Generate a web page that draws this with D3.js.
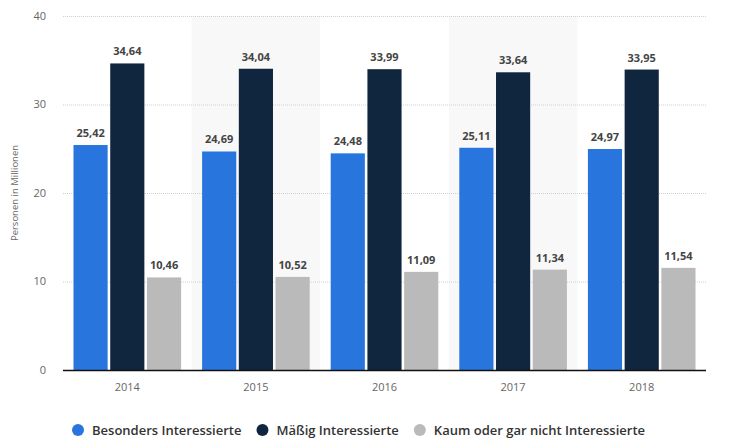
<!DOCTYPE html>
<html>
<head>
<meta charset="utf-8">
<script src="https://cdn.jsdelivr.net/npm/d3@7"></script>
<style>
  body { margin: 0; background: #fff; }
  svg { display: block; font-family: "Open Sans", sans-serif; }
</style>
</head>
<body>
<svg width="730" height="439"></svg>
<script>
const years = ["2014", "2015", "2016", "2017", "2018"];
const seriesNames = ["Besonders Interessierte", "Mäßig Interessierte", "Kaum oder gar nicht Interessierte"];
const besonders = [25.42, 24.69, 24.48, 25.11, 24.97];
const maessig = [34.64, 34.04, 33.99, 33.64, 33.95];
const kaum = [10.46, 10.52, 11.09, 11.34, 11.54];
const yTicks = [0, 10, 20, 30, 40];
const colors = ["#2876dd", "#10263e", "#bababa"];

const svg = d3.select("svg");
const margin = { left: 63, right: 24, top: 16, bottom: 69 };
const width = 730, height = 439;

const x = d3.scaleBand().domain(years).range([margin.left, width - margin.right]).padding(0);
const inner = d3.scaleBand().domain(d3.range(3)).range([10.5, x.bandwidth() - 10.5]).paddingInner(0.07);
const y = d3.scaleLinear().domain([0, 40]).range([height - margin.bottom, margin.top]);

const values = [besonders, maessig, kaum];
const rows = [];
years.forEach((yr, i) => values.forEach((s, j) => rows.push({ year: yr, s: j, v: s[i] })));

// --- alternating bands ---
svg.append("g").selectAll("rect")
  .data(years.filter((d, i) => i % 2 === 1))
  .enter().append("rect")
  .attr("x", d => x(d)).attr("width", x.bandwidth())
  .attr("y", margin.top).attr("height", y(0) - margin.top)
  .attr("fill", "#f8f8f8");

// --- grid + y labels ---
const grid = svg.append("g");
grid.selectAll("line").data(yTicks.filter(d => d > 0)).enter().append("line")
  .attr("x1", margin.left).attr("x2", width - margin.right)
  .attr("y1", d => y(d) + 0.5).attr("y2", d => y(d) + 0.5)
  .attr("stroke", "#d0d0d0").attr("stroke-dasharray", "1,1");
grid.selectAll("text").data(yTicks).enter().append("text")
  .attr("x", 46).attr("y", d => y(d)).attr("dy", "0.35em")
  .attr("text-anchor", "end").attr("font-size", 11).attr("fill", "#666")
  .text(d => d);

svg.append("text")
  .attr("transform", `translate(18,${(y(0) + y(40)) / 2}) rotate(-90)`)
  .attr("text-anchor", "middle").attr("font-size", 9.5).attr("fill", "#666")
  .text("Personen in Millionen");

// --- bars ---
svg.append("g").selectAll("rect").data(rows).enter().append("rect")
  .attr("x", d => x(d.year) + inner(d.s)).attr("width", inner.bandwidth())
  .attr("y", d => y(d.v)).attr("height", d => y(0) - y(d.v))
  .attr("fill", d => colors[d.s]);

svg.append("g").selectAll("text").data(rows).enter().append("text")
  .attr("x", d => x(d.year) + inner(d.s) + inner.bandwidth() / 2)
  .attr("y", d => y(d.v) - 8)
  .attr("text-anchor", "middle").attr("font-size", 11).attr("font-weight", "bold")
  .attr("fill", "#444")
  .text(d => d.v.toFixed(2).replace(".", ","));

// --- x axis ---
svg.append("line")
  .attr("x1", margin.left).attr("x2", width - margin.right)
  .attr("y1", y(0) + 0.5).attr("y2", y(0) + 0.5)
  .attr("stroke", "#111").attr("stroke-width", 1.5);
svg.append("g").selectAll("text").data(years).enter().append("text")
  .attr("x", d => x(d) + x.bandwidth() / 2).attr("y", y(0) + 21)
  .attr("text-anchor", "middle").attr("font-size", 11).attr("fill", "#666")
  .text(d => d);

// --- legend (items laid out one after another) ---
const legend = svg.append("g").attr("transform", "translate(0,430)");
let lx = 78;
seriesNames.forEach((name, i) => {
  legend.append("circle").attr("cx", lx).attr("r", 6).attr("fill", colors[i]);
  const t = legend.append("text").attr("x", lx + 14).attr("dy", "0.35em")
    .attr("font-size", 13).attr("font-weight", 600).attr("fill", "#333")
    .text(name);
  lx += 14 + t.node().getComputedTextLength() + 21;
});
</script>
</body>
</html>
